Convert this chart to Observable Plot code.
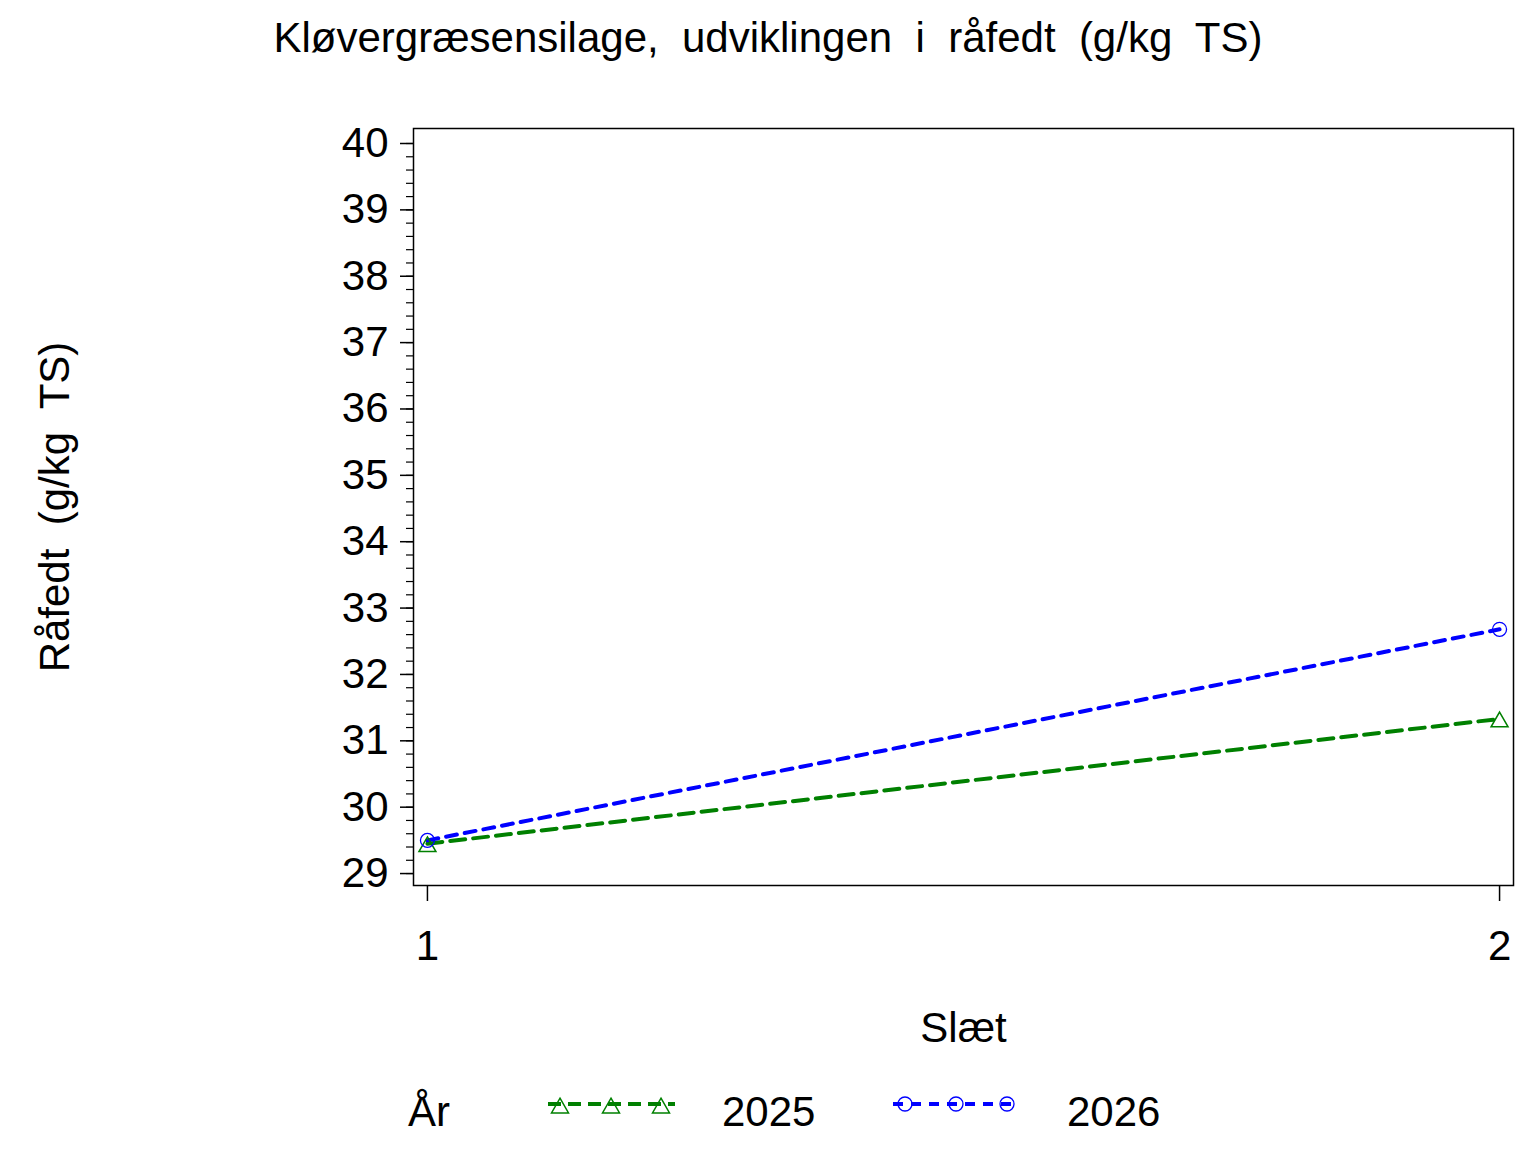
<!DOCTYPE html>
<html>
<head>
<meta charset="utf-8">
<script src="https://cdn.jsdelivr.net/npm/d3@7"></script>
<script src="https://cdn.jsdelivr.net/npm/@observablehq/plot@0.6"></script>
<style>
  html, body { margin: 0; padding: 0; background: #fff; }
  body { width: 1536px; height: 1152px; position: relative; overflow: hidden; font-family: "Liberation Sans", Arial, sans-serif; }
  #title { position: absolute; left: 0; width: 1536px; top: 15px; text-align: center; font-size: 42px; line-height: 46px; white-space: pre; color: #000; }
  #chart { position: absolute; left: 0; top: 80px; }
  #legend { position: absolute; left: 0; top: 1080px; }
</style>
</head>
<body>
<div id="title">Kløvergræsensilage,  udviklingen  i  råfedt  (g/kg  TS)</div>
<div id="chart"></div>
<div id="legend"></div>
<script>
// Data
const slaet = [1, 2];
const years = ["2025", "2026"];
const values2025 = [29.45, 31.33];
const values2026 = [29.50, 32.68];
const yTicks = [29, 30, 31, 32, 33, 34, 35, 36, 37, 38, 39, 40];
const xTicks = [1, 2];
const colors = {"2025": "#008000", "2026": "#0000ff"};
const dashes = {"2025": "15,8", "2026": "11,8"};

const rows = [];
slaet.forEach((s, i) => rows.push({slaet: s, year: "2025", value: values2025[i]}));
slaet.forEach((s, i) => rows.push({slaet: s, year: "2026", value: values2026[i]}));
const r2025 = rows.filter(d => d.year === "2025");
const r2026 = rows.filter(d => d.year === "2026");
const minorTicks = d3.range(29, 40.001, 0.2).map(v => +v.toFixed(1));

const font = "Liberation Sans, Arial, sans-serif";

const chart = Plot.plot({
  width: 1536,
  height: 1000,
  marginLeft: 413,
  marginRight: 23,
  marginTop: 48,
  marginBottom: 195,
  style: {fontFamily: font, fontSize: "42px", color: "#000", background: "#fff"},
  x: {domain: [0.987, 2.013]},
  y: {domain: [28.82, 40.226]},
  marks: [
    Plot.frame({stroke: "#000", strokeWidth: 1.5}),
    Plot.axisY({ticks: minorTicks, tickSize: 7, text: null, label: null, strokeWidth: 1.2}),
    Plot.axisY({ticks: yTicks, tickSize: 13, tickPadding: 12, tickFormat: d => String(d), label: null, fontSize: 42, strokeWidth: 1.5}),
    Plot.axisX({ticks: xTicks, tickSize: 16, tickPadding: 29, tickFormat: d => String(d), label: null, fontSize: 42, strokeWidth: 1.5}),
    Plot.text(["Slæt"], {frameAnchor: "bottom", dy: 156, fontSize: 42, fill: "#000"}),
    Plot.text(["Råfedt  (g/kg  TS)"], {frameAnchor: "left", textAnchor: "middle", dx: -358, rotate: -90, fontSize: 42, fill: "#000"}),
    Plot.line(r2025, {x: "slaet", y: "value", stroke: colors["2025"], strokeWidth: 4, strokeDasharray: dashes["2025"]}),
    Plot.line(r2026, {x: "slaet", y: "value", stroke: colors["2026"], strokeWidth: 4, strokeDasharray: dashes["2026"]}),
    Plot.dot(r2025, {x: "slaet", y: "value", symbol: "triangle", r: 6.3, stroke: colors["2025"], strokeWidth: 1.5, fill: "none", dy: 3}),
    Plot.dot(r2026, {x: "slaet", y: "value", symbol: "circle", r: 7, stroke: colors["2026"], strokeWidth: 1.3, fill: "none"})
  ]
});
chart.querySelectorAll("text").forEach(t => t.style.whiteSpace = "pre");
document.getElementById("chart").appendChild(chart);

// Legend
const lg = d3.select("#legend").append("svg").attr("width", 1536).attr("height", 72)
  .style("font-family", font);
const cy = 24;
const ty = 31;
lg.append("text").attr("x", 408).attr("y", ty).attr("dy", "0.36em").attr("font-size", 42).text("År");
const legendItems = [
  {year: "2025", x0: 548, x1: 675, marks: [560, 611, 661], tx: 722},
  {year: "2026", x0: 893, x1: 1015, marks: [905, 956, 1007], tx: 1067}
];
legendItems.forEach(it => {
  lg.append("line").attr("x1", it.x0).attr("x2", it.x1).attr("y1", cy).attr("y2", cy)
    .attr("stroke", colors[it.year]).attr("stroke-width", 4)
    .attr("stroke-dasharray", it.year === "2025" ? "13,7" : "10,8");
  it.marks.forEach(mx => {
    if (it.year === "2025") {
      lg.append("path").attr("d", d3.symbol(d3.symbolTriangle, 6.3 * 6.3 * Math.PI)())
        .attr("transform", `translate(${mx},${cy + 4})`)
        .attr("fill", "none").attr("stroke", colors[it.year]).attr("stroke-width", 1.5);
    } else {
      lg.append("circle").attr("cx", mx).attr("cy", cy).attr("r", 7)
        .attr("fill", "none").attr("stroke", colors[it.year]).attr("stroke-width", 1.3);
    }
  });
  lg.append("text").attr("x", it.tx).attr("y", ty).attr("dy", "0.36em").attr("font-size", 42).text(it.year);
});
</script>
</body>
</html>
